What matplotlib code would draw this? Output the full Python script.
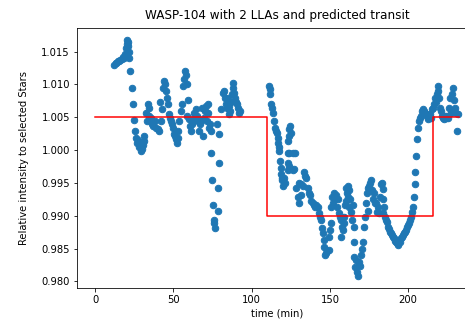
import matplotlib
matplotlib.use("Agg")
import matplotlib.pyplot as plt

# light curve (time in min, relative intensity)
time = [12.1, 13.0, 13.4, 14.7, 15.5, 16.0, 17.2, 17.9, 18.5, 19.2, 19.8, 20.4, 20.4, 21.1, 21.1,
        21.7, 21.7, 22.4, 23.6, 24.3, 24.9, 25.5, 26.2, 26.8, 27.4, 28.1, 28.7, 29.4, 30.0, 30.7,
        31.3, 31.3, 32.6, 33.2, 33.8, 34.5, 34.5, 35.8, 36.4, 37.0, 38.0, 39.0, 40.2, 40.9, 41.5,
        42.1, 42.8, 43.4, 44.1, 44.7, 45.3, 45.9, 46.6, 47.3, 47.9, 48.5, 49.2, 49.8, 50.4, 51.1,
        51.7, 52.4, 53.0, 53.0, 53.6, 54.9, 55.6, 56.2, 56.8, 57.5, 58.1, 58.7, 59.4, 58.7, 60.0,
        60.6, 61.3, 62.0, 62.6, 63.2, 63.8, 64.5, 65.1, 65.8, 66.4, 67.1, 67.7, 68.4, 69.0, 69.6,
        70.3, 70.9, 71.5, 72.2, 72.8, 73.4, 74.1, 72.2, 79.2, 77.9,
        74.1, 74.4, 75.4, 75.7, 76.0, 76.6, 79.2, 78.5, 78.5,
        80.5, 81.7, 82.4, 83.0, 83.7, 84.3, 84.9, 85.6, 85.6, 86.2, 86.8, 87.5, 88.1, 88.1, 88.8,
        89.4, 90.0, 90.6, 91.3, 92.0, 92.6,
        111.1, 111.7, 111.7, 112.4, 113.1, 113.7, 114.3, 114.9, 115.6, 116.2, 116.9, 116.9, 117.5,
        117.5, 118.1, 118.8, 118.8, 119.4, 120.1, 120.7, 121.3,
        123.2, 123.9, 123.9, 125.2, 124.5, 123.2, 123.9, 126.4, 127.7, 123.2, 123.9, 123.2, 126.4,
        127.1, 119.4,
        130.3, 128.4, 132.8, 129.6, 131.5, 130.3, 134.7, 133.5, 134.1, 131.5, 136.0, 136.7, 137.3,
        137.9, 139.2, 139.8, 140.5, 141.1, 142.4, 143.0, 143.6, 144.3, 145.0, 145.6, 146.2, 146.2,
        147.5, 146.9, 148.1, 149.4,
        149.4, 150.1, 150.7, 150.7, 151.3, 152.0, 152.6, 153.2, 153.9, 154.5, 155.2, 155.8, 156.4,
        157.1, 157.7, 157.1, 158.4, 159.0, 159.0, 159.7, 160.3, 160.3, 161.0, 161.6, 161.6, 162.2,
        162.2, 162.9, 163.5, 164.1, 164.8, 165.4, 165.4, 165.4, 166.0, 166.7, 169.2, 167.3, 167.9,
        168.6, 169.9, 170.5, 171.1, 171.8, 172.4, 173.1, 173.7, 174.3, 174.3, 175.0, 175.6, 176.2,
        176.9, 177.5, 178.2, 178.8, 179.4, 180.1, 180.7, 181.4, 182.0, 182.6, 183.2, 183.9, 183.9,
        184.5, 183.9, 185.2, 185.8, 186.4, 187.1, 187.7, 188.4, 189.0, 189.6, 190.3, 190.9, 191.6,
        192.2, 192.8, 193.5, 194.1, 194.8, 195.4, 196.1, 196.7, 197.3, 198.0, 198.6, 199.3, 199.9,
        200.5, 201.2, 201.8, 202.4, 203.1, 203.7, 204.3, 204.3, 205.0, 205.6, 206.3, 206.9, 207.5,
        208.2, 208.8, 209.5, 210.1, 210.8, 211.4, 212.0, 212.6, 213.3, 213.9, 214.6, 215.2, 215.8,
        216.5, 217.1, 217.8, 218.4, 219.0, 219.0, 219.7, 220.3, 220.9, 221.6, 222.2, 222.9, 223.5,
        224.1, 224.8, 225.4, 226.1, 226.7, 227.3, 228.0, 228.6, 229.2, 229.9, 230.5, 231.2, 231.8]

flux = [1.0130, 1.0132, 1.0133, 1.0135, 1.0136, 1.0138, 1.0139, 1.0142, 1.0141, 1.0147, 1.0155,
        1.0162, 1.0168, 1.0165, 1.0158, 1.0150, 1.0141, 1.0120, 1.0094, 1.0070, 1.0046, 1.0029,
        1.0019, 1.0011, 1.0015, 1.0005, 1.0008, 0.9999, 1.0002, 1.0008, 1.0014, 1.0022, 1.0056,
        1.0044, 1.0071, 1.0064, 1.0052, 1.0049, 1.0040, 1.0037, 1.0044, 1.0034, 1.0032, 1.0029,
        1.0074, 1.0044, 1.0062, 1.0094, 1.0105, 1.0100, 1.0090, 1.0079, 1.0071, 1.0055, 1.0049,
        1.0044, 1.0040, 1.0034, 1.0025, 1.0022, 1.0017, 1.0011, 1.0019, 1.0029, 1.0044, 1.0059,
        1.0071, 1.0097, 1.0108, 1.0120, 1.0115, 1.0100, 1.0077, 1.0052, 1.0047, 1.0037, 1.0029,
        1.0040, 1.0044, 1.0056, 1.0052, 1.0062, 1.0052, 1.0044, 1.0029, 1.0040, 1.0044, 1.0064,
        1.0022, 1.0049, 1.0059, 1.0067, 1.0044, 1.0056, 1.0034, 1.0040, 1.0029, 1.0070, 1.0025,
        1.0040,
        0.9996, 0.9954, 0.9916, 0.9893, 0.9889, 0.9881, 0.9981, 0.9942, 0.9907,
        1.0062, 1.0087, 1.0090, 1.0079, 1.0070, 1.0064, 1.0079, 1.0067, 1.0055, 1.0059, 1.0074,
        1.0085, 1.0102, 1.0094, 1.0087, 1.0079, 1.0074, 1.0070, 1.0064, 1.0056, 1.0059,
        1.0097, 1.0093, 1.0085, 1.0071, 1.0064, 1.0056, 1.0044, 1.0034, 1.0029, 1.0026, 1.0019,
        1.0011, 0.9999, 1.0005, 0.9984, 0.9973, 0.9964, 0.9954, 0.9946, 0.9958, 0.9950,
        1.0014, 1.0032, 1.0022, 1.0026, 1.0037, 0.9996, 0.9996, 0.9996, 0.9996, 0.9981, 0.9976,
        0.9969, 0.9969, 0.9972, 0.9958,
        0.9950, 0.9943, 0.9946, 0.9928, 0.9931, 0.9920, 0.9958, 0.9966, 0.9961, 0.9949, 0.9943,
        0.9934, 0.9931, 0.9923, 0.9920, 0.9916, 0.9913, 0.9916, 0.9913, 0.9904, 0.9898, 0.9893,
        0.9881, 0.9874, 0.9863, 0.9852, 0.9843, 0.9840, 0.9846, 0.9848,
        0.9868, 0.9878, 0.9889, 0.9913, 0.9928, 0.9920, 0.9934, 0.9926, 0.9931, 0.9913, 0.9926,
        0.9904, 0.9898, 0.9893, 0.9883, 0.9868, 0.9878, 0.9889, 0.9898, 0.9916, 0.9943, 0.9923,
        0.9934, 0.9946, 0.9928, 0.9939, 0.9913, 0.9926, 0.9905, 0.9893, 0.9916, 0.9883, 0.9860,
        0.9837, 0.9822, 0.9833, 0.9824, 0.9815, 0.9808, 0.9830, 0.9840, 0.9850, 0.9860, 0.9883,
        0.9898, 0.9919, 0.9934, 0.9907, 0.9943, 0.9946, 0.9950, 0.9954, 0.9939, 0.9926, 0.9934,
        0.9920, 0.9919, 0.9905, 0.9913, 0.9904, 0.9928, 0.9949, 0.9950, 0.9941, 0.9926, 0.9913,
        0.9904, 0.9898, 0.9893, 0.9890, 0.9883, 0.9880, 0.9876, 0.9874, 0.9871, 0.9868, 0.9866,
        0.9862, 0.9860, 0.9858, 0.9856, 0.9863, 0.9860, 0.9866, 0.9868, 0.9871, 0.9874, 0.9876,
        0.9878, 0.9883, 0.9886, 0.9889, 0.9893, 0.9898, 0.9905, 0.9913, 0.9928, 0.9949, 0.9966,
        0.9991, 1.0017, 1.0034, 1.0044, 1.0049, 1.0052, 1.0059, 1.0062, 1.0059, 1.0056, 1.0055,
        1.0052, 1.0047, 1.0052, 1.0055, 1.0049, 1.0062, 1.0064, 1.0071, 1.0079, 1.0074, 1.0085,
        1.0090, 1.0097, 1.0079, 1.0064, 1.0059, 1.0052, 1.0049, 1.0047, 1.0052, 1.0049, 1.0052,
        1.0049, 1.0064, 1.0079, 1.0056, 1.0085, 1.0094, 1.0077, 1.0064, 1.0056, 1.0029, 1.0055]

# predicted transit model (step function)
model_t = [0, 110, 110, 216, 216, 232.4]
model_f = [1.005, 1.005, 0.990, 0.990, 1.005, 1.005]

fig = plt.figure(figsize=(465 / 72, 327 / 72), dpi=72)
ax = fig.add_axes([77 / 465, 39 / 327, 400 / 465, 260 / 327])
ax.scatter(time, flux, s=42)
ax.plot(model_t, model_f, color="red", lw=1.5)
ax.set_title("WASP-104 with 2 LLAs and predicted transit", pad=9)
ax.set_xlabel("time (min)")
ax.set_ylabel("Relative intensity to selected Stars", labelpad=12)
ax.set_yticks([0.980, 0.985, 0.990, 0.995, 1.000, 1.005, 1.010, 1.015])
ax.set_yticklabels(["0.980", "0.985", "0.990", "0.995", "1.000", "1.005", "1.010", "1.015"])

fig.savefig("out.png", dpi=72)
